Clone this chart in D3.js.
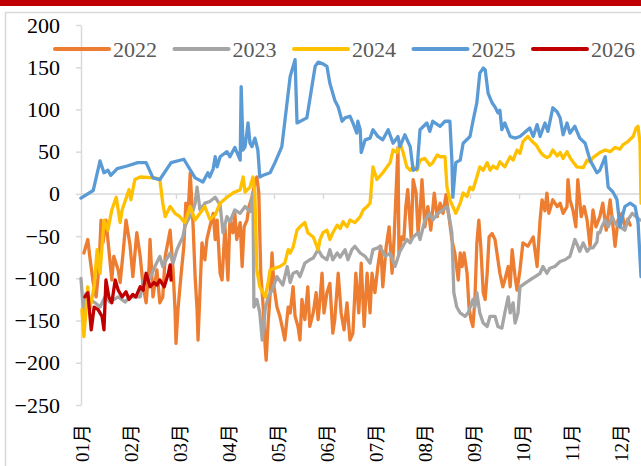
<!DOCTYPE html>
<html>
<head>
<meta charset="utf-8">
<script src="https://cdn.jsdelivr.net/npm/d3@7"></script>
<style>
  body { margin: 0; background: #fff; }
  svg { display: block; }
  .axis text { font-family: "Liberation Serif", "Times New Roman", "Noto Sans CJK SC", serif; fill: #000; }
</style>
</head>
<body>
<div id="chart"></div>
<script>
// x = position in the year, in months (0 = 1 Jan), y = spread value
var years = ["2022", "2023", "2024", "2025", "2026"];
var colors = ["#ED7D31", "#A5A5A5", "#FFC000", "#5B9BD5", "#C00000"];
var monthLabels = ["01月", "02月", "03月", "04月", "05月", "06月", "07月", "08月", "09月", "10月", "11月", "12月"];
var yTicks = [-250, -200, -150, -100, -50, 0, 50, 100, 150, 200];

var s2022 = [[0.12,-70],[0.2,-54],[0.24,-74],[0.31,-105],[0.37,-122],[0.43,-86],[0.47,-31],[0.51,-58],[0.57,-31],[0.63,-66],[0.69,-102],[0.73,-74],[0.82,-90],[0.86,-105],[0.92,-70],[0.98,-31],[1.06,-60],[1.12,-98],[1.2,-46],[1.27,-74],[1.33,-110],[1.39,-129],[1.45,-86],[1.47,-54],[1.53,-122],[1.61,-90],[1.67,-129],[1.73,-122],[1.78,-74],[1.88,-43],[1.94,-90],[1.98,-137],[2.0,-177],[2.04,-137],[2.1,-98],[2.16,-62],[2.2,-11],[2.24,-31],[2.29,25],[2.35,-39],[2.39,-98],[2.43,-137],[2.45,-173],[2.53,-58],[2.59,-78],[2.63,-54],[2.69,-39],[2.76,-23],[2.8,-54],[2.84,-31],[2.9,-94],[2.94,-102],[3.0,-39],[3.06,-102],[3.1,-31],[3.16,-46],[3.2,-23],[3.24,-54],[3.31,-34],[3.35,-86],[3.39,-39],[3.45,-31],[3.49,-15],[3.55,-4],[3.61,13],[3.65,20],[3.69,1],[3.73,-94],[3.78,-134],[3.82,-181],[3.84,-197],[3.88,-153],[3.92,-120],[3.96,-70],[4.0,-110],[4.06,-134],[4.12,-145],[4.18,-161],[4.22,-173],[4.29,-134],[4.33,-141],[4.39,-110],[4.43,-145],[4.49,-157],[4.53,-173],[4.57,-125],[4.63,-149],[4.69,-110],[4.73,-157],[4.8,-141],[4.86,-117],[4.9,-149],[4.94,-125],[4.98,-94],[5.02,-141],[5.08,-117],[5.14,-106],[5.2,-165],[5.24,-149],[5.31,-94],[5.37,-141],[5.43,-161],[5.49,-129],[5.55,-173],[5.61,-165],[5.67,-94],[5.73,-141],[5.78,-82],[5.84,-157],[5.9,-94],[5.96,-141],[6.0,-94],[6.06,-117],[6.12,-86],[6.18,-62],[6.22,-110],[6.29,-62],[6.35,-39],[6.41,-94],[6.45,-54],[6.53,55],[6.55,-70],[6.61,-51],[6.65,-54],[6.69,-15],[6.73,5],[6.8,-54],[6.84,17],[6.9,1],[6.94,-46],[6.98,-23],[7.02,17],[7.08,-39],[7.14,-15],[7.2,-43],[7.27,1],[7.33,-27],[7.39,-11],[7.45,-23],[7.51,-1],[7.57,-27],[7.63,-54],[7.69,-70],[7.76,-102],[7.8,-70],[7.84,-86],[7.88,-70],[7.94,-94],[7.98,-134],[8.02,-149],[8.06,-157],[8.1,-125],[8.14,-58],[8.18,-31],[8.22,-62],[8.27,-117],[8.31,-125],[8.35,-94],[8.39,-51],[8.45,-47],[8.51,-54],[8.57,-78],[8.61,-94],[8.67,-110],[8.71,-102],[8.78,-86],[8.82,-110],[8.86,-66],[8.92,-98],[8.96,-114],[9.02,-90],[9.08,-58],[9.18,-62],[9.29,-51],[9.37,-86],[9.43,-31],[9.47,-7],[9.53,-20],[9.57,1],[9.61,-23],[9.69,-7],[9.78,-15],[9.84,-11],[9.9,-23],[9.98,-15],[10.0,17],[10.04,-7],[10.1,-19],[10.16,-39],[10.2,17],[10.27,-27],[10.33,-15],[10.39,-31],[10.45,-62],[10.51,-19],[10.57,-39],[10.65,-27],[10.71,-11],[10.78,-43],[10.86,-7],[10.92,-39],[10.96,-62],[11.02,-31],[11.1,-23],[11.16,-39],[11.22,-30],[11.27,-37]];

var s2023 = [[0.06,-100],[0.12,-145],[0.16,-118],[0.24,-125],[0.35,-129],[0.45,-134],[0.55,-122],[0.65,-128],[0.82,-122],[0.96,-128],[1.06,-122],[1.27,-122],[1.31,-110],[1.37,-98],[1.47,-100],[1.57,-86],[1.67,-74],[1.73,-86],[1.82,-76],[1.88,-70],[1.94,-82],[2.02,-66],[2.08,-58],[2.14,-51],[2.18,-39],[2.24,-31],[2.33,-23],[2.39,-11],[2.43,8],[2.49,-19],[2.59,-11],[2.69,-9],[2.8,-4],[2.9,-13],[2.96,-46],[3.04,-27],[3.1,-33],[3.2,-19],[3.31,-23],[3.41,-15],[3.51,-21],[3.57,1],[3.59,-134],[3.65,-125],[3.71,-141],[3.76,-173],[3.82,-137],[3.88,-122],[3.96,-114],[4.06,-98],[4.18,-108],[4.27,-86],[4.33,-105],[4.39,-94],[4.47,-92],[4.53,-98],[4.63,-82],[4.73,-78],[4.8,-76],[4.9,-66],[4.98,-74],[5.08,-78],[5.14,-66],[5.2,-78],[5.29,-70],[5.35,-75],[5.45,-66],[5.51,-78],[5.59,-66],[5.65,-62],[5.76,-70],[5.86,-74],[5.96,-82],[6.02,-66],[6.12,-64],[6.16,-62],[6.27,-74],[6.37,-70],[6.47,-86],[6.57,-68],[6.63,-62],[6.71,-54],[6.78,-58],[6.84,-51],[6.94,-46],[6.98,-54],[7.08,-31],[7.18,-23],[7.24,-31],[7.35,-23],[7.45,-19],[7.53,-15],[7.57,-25],[7.63,-46],[7.67,-117],[7.73,-134],[7.8,-141],[7.9,-145],[7.96,-141],[8.06,-125],[8.1,-134],[8.14,-117],[8.2,-141],[8.27,-153],[8.35,-157],[8.41,-145],[8.51,-145],[8.57,-157],[8.65,-159],[8.71,-141],[8.78,-122],[8.82,-141],[8.88,-129],[8.92,-153],[8.98,-141],[9.02,-110],[9.12,-106],[9.22,-102],[9.33,-98],[9.43,-94],[9.49,-86],[9.57,-94],[9.63,-88],[9.73,-86],[9.84,-80],[9.94,-78],[10.04,-74],[10.1,-62],[10.14,-54],[10.2,-62],[10.24,-68],[10.31,-58],[10.39,-68],[10.45,-64],[10.51,-64],[10.59,-57],[10.61,-46],[10.65,-46],[10.69,-39],[10.76,-31],[10.82,-39],[10.9,-27],[10.96,-35],[11.06,-39],[11.16,-43],[11.22,-31],[11.31,-23],[11.39,-27],[11.47,-31]];

var s2024 = [[0.08,-137],[0.12,-169],[0.2,-110],[0.24,-137],[0.33,-110],[0.39,-66],[0.45,-94],[0.53,-31],[0.61,-43],[0.69,-19],[0.78,-4],[0.86,-34],[0.9,-19],[1.04,5],[1.08,-7],[1.16,17],[1.27,20],[1.57,19],[1.67,17],[1.73,-11],[1.78,-27],[1.88,-15],[1.98,-23],[2.08,-27],[2.18,-34],[2.29,-15],[2.39,-31],[2.49,-23],[2.59,-15],[2.69,-30],[2.8,-25],[2.9,-11],[3.04,-4],[3.16,1],[3.31,5],[3.37,20],[3.41,2],[3.51,8],[3.57,20],[3.61,1],[3.65,-90],[3.71,-110],[3.82,-122],[3.88,-105],[3.92,-90],[4.12,-86],[4.22,-82],[4.29,-66],[4.33,-70],[4.39,-63],[4.47,-43],[4.53,-39],[4.63,-34],[4.69,-46],[4.8,-51],[4.9,-66],[4.94,-54],[5.0,-46],[5.08,-43],[5.14,-54],[5.2,-46],[5.29,-37],[5.35,-41],[5.41,-33],[5.49,-39],[5.55,-31],[5.65,-34],[5.76,-27],[5.82,-19],[5.9,-15],[5.96,-11],[6.02,32],[6.1,17],[6.22,25],[6.37,37],[6.43,52],[6.51,49],[6.57,60],[6.63,50],[6.71,32],[6.78,28],[6.84,32],[6.92,28],[6.98,40],[7.08,42],[7.18,34],[7.24,37],[7.33,46],[7.39,44],[7.49,44],[7.53,8],[7.59,-7],[7.65,-15],[7.71,-23],[7.8,-11],[7.86,1],[7.94,-3],[8.0,8],[8.06,5],[8.14,20],[8.2,32],[8.27,28],[8.35,37],[8.41,28],[8.47,33],[8.55,30],[8.61,38],[8.71,32],[8.82,44],[8.88,40],[8.96,52],[9.02,48],[9.08,62],[9.18,68],[9.27,62],[9.35,58],[9.43,50],[9.49,46],[9.57,43],[9.63,45],[9.69,52],[9.78,45],[9.84,49],[9.9,42],[9.98,50],[10.04,43],[10.1,38],[10.18,32],[10.31,31],[10.39,40],[10.45,38],[10.51,43],[10.65,49],[10.76,52],[10.86,50],[10.96,55],[11.06,53],[11.12,58],[11.22,62],[11.33,68],[11.39,78],[11.43,80],[11.47,60],[11.49,-11]];

var s2025 = [[0.06,-5],[0.31,4],[0.45,39],[0.53,25],[0.61,28],[0.67,22],[0.8,30],[1.0,33],[1.22,37],[1.39,37],[1.53,19],[1.67,17],[1.9,37],[2.16,41],[2.39,19],[2.55,14],[2.65,25],[2.69,20],[2.76,30],[2.8,44],[2.84,32],[2.9,44],[3.04,50],[3.1,44],[3.2,55],[3.31,40],[3.33,127],[3.37,52],[3.41,56],[3.47,84],[3.51,60],[3.55,56],[3.61,66],[3.67,52],[3.71,20],[3.78,22],[3.92,25],[4.02,37],[4.16,56],[4.33,139],[4.43,159],[4.47,84],[4.67,90],[4.84,151],[4.9,156],[5.0,154],[5.08,151],[5.14,131],[5.24,111],[5.31,103],[5.39,86],[5.45,90],[5.55,92],[5.61,84],[5.69,72],[5.71,86],[5.76,76],[5.78,49],[5.86,64],[5.96,66],[6.02,76],[6.12,68],[6.22,64],[6.33,76],[6.43,60],[6.53,68],[6.57,56],[6.67,70],[6.78,56],[6.84,28],[6.92,30],[6.98,76],[7.12,84],[7.18,74],[7.24,86],[7.39,80],[7.49,86],[7.59,86],[7.63,40],[7.65,-4],[7.71,37],[7.8,40],[7.86,60],[8.0,68],[8.06,86],[8.14,108],[8.2,143],[8.27,149],[8.31,147],[8.37,119],[8.45,108],[8.51,103],[8.57,96],[8.61,99],[8.65,76],[8.71,84],[8.82,68],[8.92,66],[9.02,68],[9.22,78],[9.29,68],[9.37,82],[9.43,68],[9.53,84],[9.59,74],[9.69,102],[9.78,97],[9.84,90],[9.9,70],[9.98,84],[10.04,72],[10.14,80],[10.24,66],[10.35,60],[10.45,40],[10.59,25],[10.65,28],[10.76,44],[10.82,8],[10.92,2],[11.0,-7],[11.06,-39],[11.16,-15],[11.27,-11],[11.37,-15],[11.43,-34],[11.49,-98]];

var s2026 = [[0.14,-122],[0.2,-117],[0.27,-161],[0.33,-134],[0.41,-137],[0.49,-145],[0.53,-161],[0.57,-102],[0.63,-122],[0.69,-129],[0.76,-102],[0.82,-114],[0.9,-122],[0.98,-116],[1.04,-125],[1.12,-119],[1.18,-122],[1.27,-110],[1.33,-114],[1.39,-94],[1.47,-110],[1.55,-105],[1.61,-108],[1.67,-102],[1.76,-110],[1.84,-95],[1.88,-84],[1.9,-102]];

var series = [s2022, s2023, s2024, s2025, s2026];

var W = 641, H = 466;
var svg = d3.select("#chart").append("svg")
  .attr("width", W)
  .attr("height", H)

// red banner + chart frame
svg.append("rect").attr("x", 0).attr("y", 0).attr("width", W).attr("height", 6).attr("fill", "#C00000")
svg.append("rect").attr("x", 5.5).attr("y", 12.5).attr("width", W + 20).attr("height", H + 20)
  .attr("fill", "none").attr("stroke", "#D9D9D9").attr("stroke-width", 1.5)

var x = d3.scaleLinear().domain([0, 12]).range([78, 666])
var y = d3.scaleLinear().domain([-250, 200]).range([405, 25])
var plotLeft = 81

// y axis
var yAxis = svg.append("g")
  .attr("class", "axis")
  .attr("transform", "translate(" + plotLeft + ",0)")
  .call(d3.axisLeft(y).tickValues(yTicks).tickSize(5).tickPadding(16).tickSizeOuter(0))
yAxis.select(".domain").attr("stroke", "#D9D9D9").attr("stroke-width", 1.5)
yAxis.selectAll(".tick line").attr("stroke", "#D9D9D9").attr("stroke-width", 1.5)
yAxis.selectAll("text").attr("font-size", 22)

// x axis on the zero line
var xAxis = svg.append("g")
  .attr("class", "axis")
  .attr("transform", "translate(0," + y(0) + ")")
  .call(d3.axisBottom(x).tickValues(d3.range(1, 13)).tickSize(5).tickFormat("").tickSizeOuter(0))
xAxis.select(".domain").attr("d", "M" + plotLeft + ",0H" + (W + 10)).attr("stroke", "#D9D9D9").attr("stroke-width", 1.5)
xAxis.selectAll(".tick line").attr("stroke", "#D9D9D9").attr("stroke-width", 1.5)

// month labels, rotated, along the bottom
svg.append("g").attr("class", "axis")
  .selectAll("text")
  .data(monthLabels)
  .enter()
  .append("text")
  .attr("transform", function (d, i) { return "translate(" + (x(i) + 4) + ",424) rotate(-90)" })
  .attr("text-anchor", "end")
  .attr("dominant-baseline", "central")
  .attr("font-size", 19)
  .text(function (d) { return d })

// series
var line = d3.line()
  .x(function (d) { return x(d[0]) })
  .y(function (d) { return y(d[1]) })

svg.append("g")
  .selectAll("path")
  .data(series)
  .enter()
  .append("path")
  .attr("d", line)
  .attr("fill", "none")
  .attr("stroke", function (d, i) { return colors[i] })
  .attr("stroke-width", 3.3)
  .attr("stroke-linejoin", "round")
  .attr("stroke-linecap", "round")

// legend
var legend = svg.append("g")
  .selectAll("g")
  .data(years)
  .enter()
  .append("g")
  .attr("transform", function (d, i) { return "translate(" + (55 + i * 119.5) + ",49)" })

legend.append("line")
  .attr("x1", 0).attr("x2", 54)
  .attr("stroke", function (d, i) { return colors[i] })
  .attr("stroke-width", 4)
  .attr("stroke-linecap", "round")

legend.append("text")
  .attr("x", 58)
  .attr("dominant-baseline", "central")
  .attr("font-family", "'Liberation Serif', 'Times New Roman', serif")
  .attr("font-size", 22)
  .attr("fill", "#595959")
  .text(function (d) { return d })
</script>
</body>
</html>
